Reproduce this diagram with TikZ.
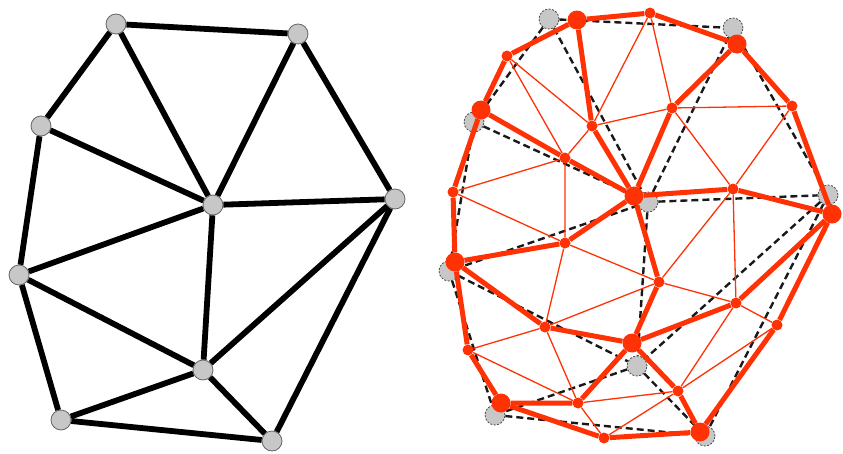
\documentclass[tikz,border=0pt]{standalone}
\begin{document}
\begin{tikzpicture}[x=1pt,y=-1pt,
  gnode/.style={circle,inner sep=0pt,minimum size=20pt,fill=black!22,draw=black!60,line width=0.8pt},
  gdnode/.style={circle,inner sep=0pt,minimum size=20pt,fill=black!22,draw=black!70,line width=0.8pt,dash pattern=on 2pt off 1.5pt},
  bigred/.style={circle,inner sep=0pt,minimum size=19pt,fill=redc},
  smallred/.style={circle,inner sep=0pt,minimum size=11pt,fill=redc},
  blackedge/.style={line width=5.8pt,black},
  dashedge/.style={line width=2.4pt,black!90,dash pattern=on 7pt off 4pt},
  thickred/.style={line width=5pt,redc,line join=round},
  thinred/.style={line width=1.3pt,redc}]
\definecolor{redc}{RGB}{255,50,5}
\useasboundingbox (0,0) rectangle (843,453);
% ---------- left graph ----------
\node[gnode] (A) at (116,24) {};
\node[gnode] (B) at (298,34) {};
\node[gnode] (C) at (41,126) {};
\node[gnode] (D) at (213,205) {};
\node[gnode] (E) at (395,199) {};
\node[gnode] (F) at (19,275) {};
\node[gnode] (G) at (203,370) {};
\node[gnode] (H) at (61,420) {};
\node[gnode] (I) at (272,441) {};
\foreach \u/\v in {A/B,A/C,A/D,B/D,B/E,C/D,C/F,D/E,D/F,D/G,E/G,E/I,F/G,F/H,G/H,G/I,H/I}
  \draw[blackedge] (\u) -- (\v);
% ---------- right: gray dashed graph ----------
\node[gdnode] (gA) at (549,19) {};
\node[gdnode] (gB) at (733,28) {};
\node[gdnode] (gC) at (474,122) {};
\node[gdnode] (gD) at (648,202) {};
\node[gdnode] (gE) at (828,195) {};
\node[gdnode] (gF) at (449,271) {};
\node[gdnode] (gG) at (637,366) {};
\node[gdnode] (gH) at (495,415) {};
\node[gdnode] (gI) at (705,436) {};
\foreach \u/\v in {A/B,A/C,A/D,B/D,B/E,C/D,C/F,D/E,D/F,D/G,E/G,E/I,F/G,F/H,G/H,G/I,H/I}
  \draw[dashedge] (g\u) -- (g\v);
% ---------- right: red refined graph ----------
\node[bigred] (rA) at (577,20) {};
\node[bigred] (rB) at (737,44) {};
\node[bigred] (rC) at (481,110) {};
\node[bigred] (rD) at (634,196) {};
\node[bigred] (rE) at (832,214) {};
\node[bigred] (rF) at (455,262) {};
\node[bigred] (rG) at (632,343) {};
\node[bigred] (rH) at (501,403) {};
\node[bigred] (rI) at (700,432) {};
\node[smallred] (ab) at (650,13) {};
\node[smallred] (ac) at (507,56) {};
\node[smallred] (ad) at (592,126) {};
\node[smallred] (bd) at (672,108) {};
\node[smallred] (be) at (792,106) {};
\node[smallred] (cd) at (565,158) {};
\node[smallred] (cf) at (453,192) {};
\node[smallred] (de) at (733,189) {};
\node[smallred] (df) at (565,243) {};
\node[smallred] (dg) at (659,282) {};
\node[smallred] (eg) at (736,303) {};
\node[smallred] (ei) at (777,325) {};
\node[smallred] (fg) at (545,327) {};
\node[smallred] (fh) at (468,350) {};
\node[smallred] (gh) at (578,403) {};
\node[smallred] (gi) at (678,391) {};
\node[smallred] (hi) at (604,438) {};
% thin lines inside each triangle
\foreach \p/\q/\r in {ab/ad/bd, ac/ad/cd, bd/be/de, cd/cf/df, de/dg/eg, df/dg/fg, eg/ei/gi, fg/fh/gh, gh/gi/hi}
  \draw[thinred] (\p) -- (\q) -- (\r) -- (\p);
% thick subdivided edges
\foreach \u/\m/\v in {A/ab/B, A/ac/C, A/ad/D, B/bd/D, B/be/E, C/cd/D, C/cf/F, D/de/E, D/df/F, D/dg/G, E/eg/G, E/ei/I, F/fg/G, F/fh/H, G/gh/H, G/gi/I, H/hi/I}
  \draw[thickred] (r\u) -- (\m) -- (r\v);
\end{tikzpicture}
\end{document}
